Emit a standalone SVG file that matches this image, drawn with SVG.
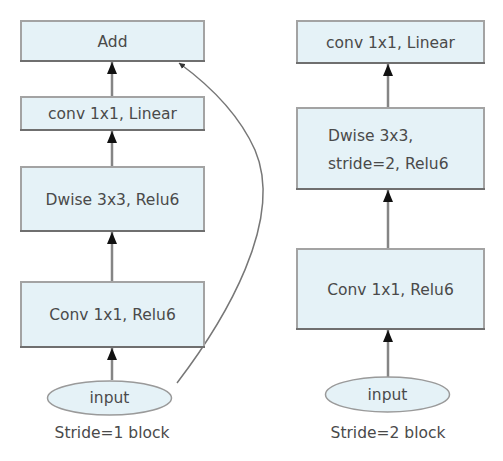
<svg xmlns="http://www.w3.org/2000/svg" width="503" height="461" viewBox="0 0 503 461">
<style>
.box{fill:#e5f2f7;stroke:#a3a3a3;stroke-width:2}
.base{stroke:#6f6f6f;stroke-width:2}
.ell{fill:#e5f2f7;stroke:#9a9a9a;stroke-width:1.5}
.t{font-family:"DejaVu Sans",sans-serif;font-size:15.5px;fill:#4a4a4a}
.c{text-anchor:middle}
.ln{stroke:#858585;stroke-width:2.5;fill:none}
.sk{stroke:#777777;stroke-width:1.5;fill:none}
</style>
<defs>
<marker id="ah" viewBox="0 0 12 10" refX="12" refY="5" markerWidth="12" markerHeight="10" markerUnits="userSpaceOnUse" orient="auto">
<path d="M0 0 L12 5 L0 10 Z" fill="#111"/>
</marker>
<marker id="ah2" viewBox="0 0 6 6" refX="6" refY="3" markerWidth="6" markerHeight="6" markerUnits="userSpaceOnUse" orient="auto">
<path d="M0 0 L6 3 L0 6 Z" fill="#333"/>
</marker>
</defs>
<g id="connectors">
<line class="ln" x1="112" y1="380" x2="112" y2="348" marker-end="url(#ah)"/>
<line class="ln" x1="112" y1="282" x2="112" y2="232" marker-end="url(#ah)"/>
<line class="ln" x1="112" y1="167" x2="112" y2="131" marker-end="url(#ah)"/>
<line class="ln" x1="112" y1="97" x2="112" y2="62" marker-end="url(#ah)"/>
<path class="sk" d="M177 383 C225 320 285 220 255 150 C238 112 205 82 179 63" marker-end="url(#ah2)"/>
<line class="ln" x1="388" y1="377" x2="388" y2="330" marker-end="url(#ah)"/>
<line class="ln" x1="388" y1="249" x2="388" y2="190" marker-end="url(#ah)"/>
<line class="ln" x1="388" y1="108" x2="388" y2="64" marker-end="url(#ah)"/>
</g>
<g id="add">
<rect class="box" x="21" y="21" width="183" height="40"/>
<line class="base" x1="20" y1="61" x2="205" y2="61"/>
<text class="t c" x="112.5" y="47">Add</text>
</g>
<g id="conv-linear-1">
<rect class="box" x="21" y="97" width="183" height="33"/>
<line class="base" x1="20" y1="130" x2="205" y2="130"/>
<text class="t c" x="112.5" y="119">conv 1x1, Linear</text>
</g>
<g id="dwise-1">
<rect class="box" x="21" y="167" width="183" height="64"/>
<line class="base" x1="20" y1="231" x2="205" y2="231"/>
<text class="t c" x="112.5" y="204.5">Dwise 3x3, Relu6</text>
</g>
<g id="conv-relu-1">
<rect class="box" x="21" y="282" width="183" height="65"/>
<line class="base" x1="20" y1="347" x2="205" y2="347"/>
<text class="t c" x="112.5" y="320">Conv 1x1, Relu6</text>
</g>
<g id="input-1">
<ellipse class="ell" cx="109.5" cy="398" rx="62" ry="17"/>
<text class="t c" x="109.5" y="403">input</text>
</g>
<text class="t c" x="112" y="437.5">Stride=1 block</text>
<g id="conv-linear-2">
<rect class="box" x="297" y="21" width="187" height="42"/>
<line class="base" x1="296" y1="63" x2="485" y2="63"/>
<text class="t c" x="390.5" y="47.5">conv 1x1, Linear</text>
</g>
<g id="dwise-2">
<rect class="box" x="297" y="108" width="187" height="81"/>
<line class="base" x1="296" y1="189" x2="485" y2="189"/>
<text class="t" x="328" y="140.5">Dwise 3x3,</text>
<text class="t" x="328" y="168.5">stride=2, Relu6</text>
</g>
<g id="conv-relu-2">
<rect class="box" x="297" y="249" width="187" height="80"/>
<line class="base" x1="296" y1="329" x2="485" y2="329"/>
<text class="t c" x="390.5" y="295">Conv 1x1, Relu6</text>
</g>
<g id="input-2">
<ellipse class="ell" cx="387.5" cy="394.5" rx="62" ry="17.5"/>
<text class="t c" x="387.5" y="399.5">input</text>
</g>
<text class="t c" x="388" y="437.5">Stride=2 block</text>
</svg>
